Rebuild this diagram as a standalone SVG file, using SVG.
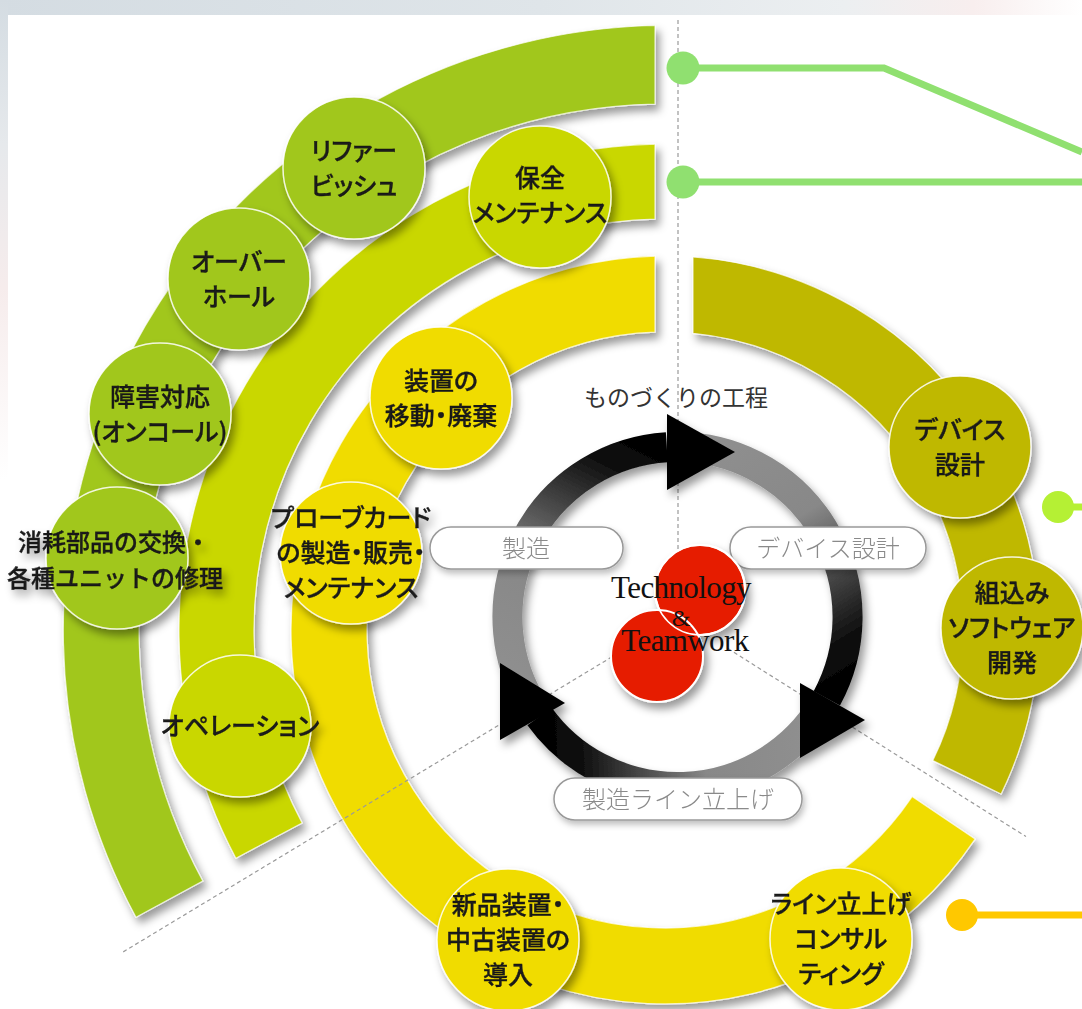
<svg xmlns="http://www.w3.org/2000/svg" width="1082" height="1009" viewBox="0 0 1082 1009">
<defs>
<style>
.ring{stroke:#fff;stroke-opacity:.7;stroke-width:1.2}
.g1{fill:#a1c71a}
.g2{fill:#c9d700}
.g3{fill:#f0dc00}
.g4{fill:#bfb800}
.node circle{stroke:#fff;stroke-width:1.5;stroke-opacity:.85}
.t{font-family:"Noto Sans CJK JP","Noto Sans CJK SC",sans-serif;font-size:25px;fill:#1a1a1a;stroke:#1a1a1a;stroke-width:0.35;text-anchor:middle;font-weight:500;font-feature-settings:"palt" 1}
.t2{font-family:"Noto Sans CJK JP","Noto Sans CJK SC",sans-serif;font-size:24px;fill:#1a1a1a;stroke:#1a1a1a;stroke-width:0.35;text-anchor:middle;font-weight:500}
.pill rect{fill:#fff;stroke:#999;stroke-width:1.5}
.pl{font-family:"Noto Sans CJK JP","Noto Sans CJK SC",sans-serif;font-size:24px;fill:#8a8a8a;text-anchor:middle;font-weight:300}
.dash{fill:none;stroke:#9a9a9a;stroke-width:1.2;stroke-dasharray:4 3}
.arc{fill:none;stroke-width:30}
.con{fill:none;stroke-width:7}
.serif{font-family:"Liberation Serif","Times New Roman",serif;fill:#111;text-anchor:middle}
</style>
<filter id="sh" x="-15%" y="-15%" width="135%" height="135%">
<feDropShadow dx="4" dy="6" stdDeviation="4" flood-color="#000" flood-opacity="0.4"/>
</filter>
<filter id="shs" x="-15%" y="-15%" width="135%" height="140%">
<feDropShadow dx="2" dy="4" stdDeviation="3" flood-color="#000" flood-opacity="0.25"/>
</filter>
<linearGradient id="topbg" x1="0" y1="0" x2="1" y2="0">
<stop offset="0" stop-color="#d4dce2"/><stop offset="0.5" stop-color="#dfe5e9"/><stop offset="0.78" stop-color="#eceff1"/><stop offset="0.9" stop-color="#f8eeee"/><stop offset="1" stop-color="#ffffff"/>
</linearGradient>
<linearGradient id="leftbg" x1="0" y1="0" x2="0" y2="1">
<stop offset="0" stop-color="#d4dce2"/><stop offset="0.3" stop-color="#e6e9ec"/><stop offset="0.6" stop-color="#f6ecec"/><stop offset="1" stop-color="#ffffff"/>
</linearGradient>
<linearGradient id="gA" gradientUnits="userSpaceOnUse" x1="534.9" y1="709.6" x2="666.8" y2="447.3">
<stop offset="0" stop-color="#909090"/><stop offset="0.42" stop-color="#888"/><stop offset="0.85" stop-color="#111"/><stop offset="1" stop-color="#000"/>
</linearGradient>
<linearGradient id="gB" gradientUnits="userSpaceOnUse" x1="675.7" y1="447" x2="826.8" y2="698.4">
<stop offset="0" stop-color="#909090"/><stop offset="0.42" stop-color="#888"/><stop offset="0.85" stop-color="#111"/><stop offset="1" stop-color="#000"/>
</linearGradient>
<linearGradient id="gC" gradientUnits="userSpaceOnUse" x1="822.3" y1="706.1" x2="539.6" y2="716.5">
<stop offset="0" stop-color="#909090"/><stop offset="0.42" stop-color="#888"/><stop offset="0.85" stop-color="#111"/><stop offset="1" stop-color="#000"/>
</linearGradient>
</defs>

<rect width="1082" height="1009" fill="#fff"/>
<rect width="1082" height="15" fill="url(#topbg)"/>
<rect width="8" height="480" fill="url(#leftbg)"/>

<g id="rings">
<g id="ring-outer" filter="url(#sh)"><path class="ring g1" d="M655,25.5 A604.5,604.5 0 0,0 136,917.3 L202.8,881 A526,526 0 0,1 655,104.1 Z"/></g>
<g id="ring-middle" filter="url(#sh)"><path class="ring g2" d="M655,144.1 A486,486 0 0,0 235.9,858.2 L302.1,823 A411,411 0 0,1 655,219.1 Z"/></g>
<g id="ring-inner" filter="url(#sh)"><path class="ring g3" d="M655,256.1 A374,374 0 1,0 975.1,839.1 L912.1,796.6 A298,298 0 1,1 655,332.2 Z"/></g>
<g id="ring-design" filter="url(#sh)"><path class="ring g4" d="M693,257 A374,374 0 0,1 1001.1,794 L932.8,760.6 A298,298 0 0,0 693,333.3 Z"/></g>
</g>

<g id="dividers">
<path class="dash" d="M678,20 V617"/>
<path class="dash" d="M678,617 L123,952"/>
<path class="dash" d="M728,648.6 L1026,836.6"/>
</g>

<g id="node-refurbish" class="node" filter="url(#sh)"><circle class="g1" cx="354" cy="168" r="71"/><text class="t" x="354" y="160">リファー</text><text class="t" x="354" y="195">ビッシュ</text></g>
<g id="node-overhaul" class="node" filter="url(#sh)"><circle class="g1" cx="239" cy="279" r="71"/><text class="t" x="239" y="271">オーバー</text><text class="t" x="239" y="306">ホール</text></g>
<g id="node-oncall" class="node" filter="url(#sh)"><circle class="g1" cx="160" cy="414" r="71"/><text class="t" x="160" y="406">障害対応</text><text class="t" x="160" y="441">(オンコール)</text></g>
<g id="node-consumables" class="node" filter="url(#sh)"><circle class="g1" cx="117" cy="558" r="71"/><text class="t2" x="114" y="551">消耗部品の交換・</text><text class="t2" x="115" y="587">各種ユニットの修理</text></g>
<g id="node-maintenance" class="node" filter="url(#sh)"><circle class="g2" cx="540" cy="197" r="71"/><text class="t" x="540" y="187">保全</text><text class="t" x="540" y="222">メンテナンス</text></g>
<g id="node-operation" class="node" filter="url(#sh)"><circle class="g2" cx="240" cy="726" r="71"/><text class="t" x="240" y="735">オペレーション</text></g>
<g id="node-relocation" class="node" filter="url(#sh)"><circle class="g3" cx="441" cy="398" r="71"/><text class="t" x="441" y="390">装置の</text><text class="t" x="441" y="425">移動・廃棄</text></g>
<g id="node-probecard" class="node" filter="url(#sh)"><circle class="g3" cx="351" cy="553" r="71"/><text class="t" x="351" y="527">プローブカード</text><text class="t" x="351" y="562">の製造・販売・</text><text class="t" x="351" y="597">メンテナンス</text></g>
<g id="node-newequip" class="node" filter="url(#sh)"><circle class="g3" cx="508" cy="940" r="71"/><text class="t" x="508" y="914">新品装置・</text><text class="t" x="508" y="949">中古装置の</text><text class="t" x="508" y="984">導入</text></g>
<g id="node-lineconsult" class="node" filter="url(#sh)"><circle class="g3" cx="841" cy="939" r="71"/><text class="t" x="841" y="913">ライン立上げ</text><text class="t" x="841" y="948">コンサル</text><text class="t" x="841" y="983">ティング</text></g>
<g id="node-device" class="node" filter="url(#sh)"><circle class="g4" cx="960" cy="447" r="71"/><text class="t" x="960" y="439">デバイス</text><text class="t" x="960" y="474">設計</text></g>
<g id="node-embedded" class="node" filter="url(#sh)"><circle class="g4" cx="1012" cy="628" r="71"/><text class="t" x="1012" y="602">組込み</text><text class="t" x="1012" y="637">ソフトウェア</text><text class="t" x="1012" y="672">開発</text></g>

<g id="cycle">
<g id="cycle-ring" filter="url(#sh)">
<path class="arc" stroke="url(#gA)" d="M534.9,709.6 A170,170 0 0,1 666.8,447.3"/>
<path class="arc" stroke="url(#gB)" d="M675.7,447 A170,170 0 0,1 826.8,698.4"/>
<path class="arc" stroke="url(#gC)" d="M822.3,706.1 A170,170 0 0,1 539.6,716.5"/>
<polygon fill="#000" points="667,414 735,452 667,490"/>
<polygon fill="#000" points="800,683 865,720 800,758"/>
<polygon fill="#000" points="500,663 565,703 500,740"/>
</g>
<text x="676" y="406" font-family="'Noto Sans CJK JP','Noto Sans CJK SC',sans-serif" font-size="23" fill="#333" text-anchor="middle">ものづくりの工程</text>
<g id="label-manufacturing" class="pill" filter="url(#shs)"><rect x="430" y="527" width="193" height="42" rx="21"/><text class="pl" x="526" y="557">製造</text></g>
<g id="label-device" class="pill" filter="url(#shs)"><rect x="730" y="527" width="196" height="42" rx="21"/><text class="pl" x="828" y="557">デバイス設計</text></g>
<g id="label-line" class="pill" filter="url(#shs)"><rect x="554" y="778" width="248" height="42" rx="21"/><text class="pl" x="678" y="808">製造ライン立上げ</text></g>
<g id="core" filter="url(#sh)">
<circle cx="700" cy="590" r="45" fill="#e61e00" stroke="#fff" stroke-width="2"/>
<circle cx="657" cy="656" r="46" fill="#e61e00" stroke="#fff" stroke-width="2"/>
<circle cx="700" cy="590" r="45" fill="none" stroke="#fff" stroke-width="1.5"/>
</g>
<text class="serif" x="681" y="598" font-size="31" letter-spacing="-0.6">Technology</text>
<text class="serif" x="681" y="626" font-size="24">&amp;</text>
<text class="serif" x="685" y="651" font-size="31" letter-spacing="-0.6">Teamwork</text>
</g>

<g id="connectors">
<path class="con" stroke="#90e070" d="M683,68 H884 L1082,152"/>
<circle cx="683" cy="68" r="16.5" fill="#90e070"/>
<path class="con" stroke="#90e070" d="M683,182 H1082"/>
<circle cx="683" cy="182" r="16.5" fill="#90e070"/>
<path class="con" stroke="#b5f034" d="M1058,507 H1082"/>
<circle cx="1058" cy="507" r="16" fill="#b5f034"/>
<path class="con" stroke="#ffc800" d="M962,915 H1082"/>
<circle cx="962" cy="915" r="16" fill="#ffc800"/>
</g>
</svg>
